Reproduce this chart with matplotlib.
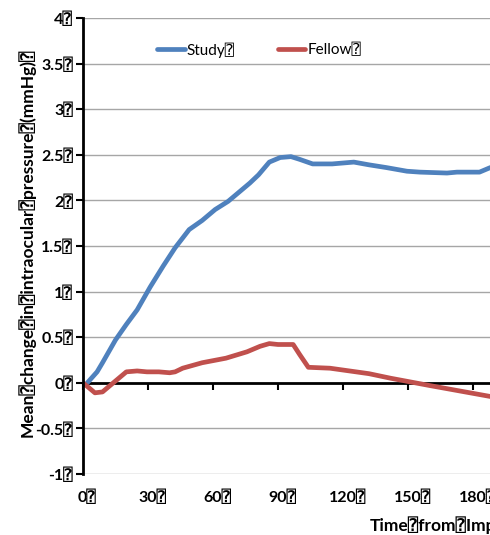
import matplotlib.pyplot as plt
import matplotlib.transforms as mtransforms

plt.rcParams['font.family'] = ['Lato', 'DejaVu Sans', 'DejaVu Sans Mono']

B = '\u2370'  # missing-glyph box seen in the original text

# days after treatment vs mean IOP change (mmHg)
study_days = [2, 6.5, 9, 15, 20, 25, 31, 37, 42.5, 49, 55, 61, 67, 72.5, 77, 81, 86, 91, 96,
              100, 106, 115, 125, 132, 140, 149.5, 155.5, 168, 172.6, 183, 188]
study_vals = [0, 0.12, 0.22, 0.47, 0.64, 0.80, 1.05, 1.28, 1.48, 1.68, 1.78, 1.90, 1.99, 2.10,
              2.19, 2.28, 2.42, 2.47, 2.48, 2.45, 2.40, 2.40, 2.42, 2.39, 2.36, 2.32, 2.31,
              2.30, 2.31, 2.31, 2.36]

fellow_days = [0, 5.5, 9, 14, 20, 25, 29.5, 35, 40, 42.5, 46, 55, 66, 75.7, 81.7, 86, 90, 97,
               100, 104, 114, 123, 132, 142, 151, 160, 174, 188]
fellow_vals = [0, -0.11, -0.10, 0.0, 0.12, 0.13, 0.12, 0.12, 0.11, 0.12, 0.16, 0.22, 0.27, 0.34,
               0.40, 0.43, 0.42, 0.42, 0.31, 0.17, 0.16, 0.13, 0.10, 0.05, 0.01, -0.03, -0.09, -0.15]

y_ticks = [-1, -0.5, 0, 0.5, 1, 1.5, 2, 2.5, 3, 3.5, 4]
x_ticks = [0, 30, 60, 90, 120, 150, 180]

fig = plt.figure(figsize=(4.9, 5.35), dpi=100)
W, H = 490, 535
ax = fig.add_axes([83 / W, 1 - 474 / H, (490 - 83) / W, (474 - 18) / H])

ax.plot(study_days, study_vals, color='#4F81BD', lw=3.4, label='Study' + B, solid_capstyle='round')
ax.plot(fellow_days, fellow_vals, color='#C0504D', lw=3.4, label='Fellow' + B, solid_capstyle='round')

ax.set_xlim(0, (490 - 83) / 65 * 30)
ax.set_ylim(-1, 4)

for y in y_ticks:
    if y != 0:
        ax.axhline(y, color='#A6A6A6', lw=1, zorder=0)

for s in ['top', 'right']:
    ax.spines[s].set_visible(False)
ax.spines['left'].set_linewidth(2)
ax.spines['bottom'].set_linewidth(2)
ax.spines['bottom'].set_position(('data', 0))
ax.spines['bottom'].set_zorder(1)

ax.set_yticks(y_ticks)
ax.set_yticklabels([f'{v:g}' + B for v in y_ticks], fontsize=11.5, fontweight='bold')
ax.tick_params(axis='y', length=5, width=1.5, pad=2)
ax.set_xticks(x_ticks)
ax.set_xticklabels([])
ax.tick_params(axis='x', length=5, width=1.5, direction='out')

trans = mtransforms.blended_transform_factory(ax.transData, fig.transFigure)
for x in x_ticks:
    ax.text(x + 2, 1 - 497 / H, str(x) + B, transform=trans, ha='center', va='center',
            fontsize=11.5, fontweight='bold', clip_on=False)

fig.text(370 / W, 1 - 525 / H, 'Time' + B + 'from' + B + 'Implant' + B + '(days)' + B,
         ha='left', va='center', fontsize=12.5, fontweight='bold')
fig.text(27 / W, 1 - 243 / H,
         'Mean' + B + 'change' + B + 'in' + B + 'intraocular' + B + 'pressure' + B + '(mmHg)' + B,
         rotation=90, ha='center', va='center', fontsize=12.5, fontweight='bold')

ax.legend(loc='upper center', bbox_to_anchor=(259 / W, 1 - 36 / H), bbox_transform=fig.transFigure,
          ncol=2, frameon=False, fontsize=11, handlelength=1.8, handletextpad=0.15,
          columnspacing=2.8, borderaxespad=0, labelspacing=0)

fig.savefig('out.png', dpi=100)
